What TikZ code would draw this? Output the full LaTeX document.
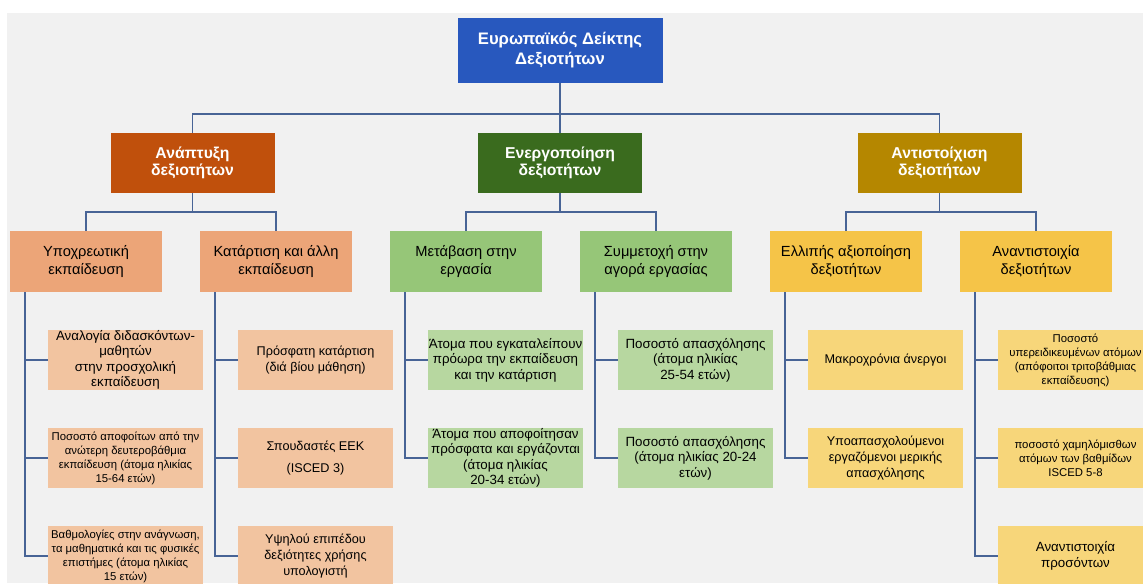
\documentclass[tikz,border=0pt]{standalone}
\usepackage{fontspec}
\setmainfont{Liberation Sans}
\usepackage{tikz}
\usetikzlibrary{calc}

\definecolor{bggray}{RGB}{241,241,241}
\definecolor{linkblue}{RGB}{72,100,150}
\definecolor{topblue}{RGB}{40,88,190}
\definecolor{devorange}{RGB}{192,80,12}
\definecolor{actgreen}{RGB}{58,107,30}
\definecolor{matchgold}{RGB}{181,135,0}
\definecolor{suborange}{RGB}{236,165,120}
\definecolor{itemorange}{RGB}{242,196,160}
\definecolor{subgreen}{RGB}{150,198,120}
\definecolor{itemgreen}{RGB}{183,215,160}
\definecolor{subyellow}{RGB}{245,196,72}
\definecolor{itemyellow}{RGB}{247,214,122}

\begin{document}
\begin{tikzpicture}[x=0.75pt,y=0.75pt,yscale=-1,xscale=1,
    conn/.style={draw=linkblue, line width=1.3pt},
    topbox/.style={fill=topblue, text=white, minimum width=153.75pt, minimum height=48.75pt, inner sep=0pt, align=center, font=\fontsize{12.5}{14.5}\selectfont\bfseries},
    headbox/.style={text=white, minimum width=123pt, minimum height=45pt, inner sep=0pt, align=center, font=\fontsize{11.8}{13}\selectfont\bfseries},
    subbox/.style={minimum width=114pt, minimum height=45.75pt, inner sep=0pt, align=center, font=\fontsize{11}{13}\selectfont},
    itembox/.style={minimum width=116.25pt, minimum height=45pt, inner sep=0pt, align=center, font=\fontsize{10}{11.6}\selectfont},
    smallitem/.style={itembox, font=\fontsize{8.5}{10.5}\selectfont},
    miditem/.style={itembox, font=\fontsize{9.5}{12}\selectfont}]

        \useasboundingbox (0,0) rectangle (1143,583);
        \clip (0,0) rectangle (1143,583);
        %Shape: Rectangle [background]
        \fill [white] (0,0) rectangle (1143,583);
        \fill [bggray] (7,13) rectangle (1143,583);

        % Text Node
        \node [topbox] (top) at (560,50) {Ευρωπαϊκός Δείκτης\\Δεξιοτήτων};

        % Text Node
        \node [headbox, fill=devorange] (dev) at (192.5,163) {Ανάπτυξη\\δεξιοτήτων};
        \node [headbox, fill=actgreen] (act) at (560,163) {Ενεργοποίηση\\δεξιοτήτων};
        \node [headbox, fill=matchgold] (match) at (939.5,163) {Αντιστοίχιση\\δεξιοτήτων};

        % Text Node
        \node [subbox, fill=suborange] (compul) at (86,261.5) {Υποχρεωτική\\εκπαίδευση};
        \node [subbox, fill=suborange] (train) at (276,261.5) {Κατάρτιση και άλλη\\εκπαίδευση};
        \node [subbox, fill=subgreen] (trans) at (466,261.5) {Μετάβαση στην\\εργασία};
        \node [subbox, fill=subgreen] (part) at (656,261.5) {Συμμετοχή στην\\αγορά εργασίας};
        \node [subbox, fill=subyellow] (under) at (846,261.5) {Ελλιπής αξιοποίηση\\δεξιοτήτων};
        \node [subbox, fill=subyellow] (mism) at (1036,261.5) {Αναντιστοιχία\\δεξιοτήτων};

        % Text Node
        \node [itembox, fill=itemorange] (compul1) at (125.5,360) {Αναλογία διδασκόντων-\\μαθητών\\στην προσχολική\\εκπαίδευση};
        \node [smallitem, fill=itemorange] (compul2) at (125.5,458) {Ποσοστό αποφοίτων από την\\ανώτερη δευτεροβάθμια\\εκπαίδευση (άτομα ηλικίας\\15-64 ετών)};
        \node [smallitem, fill=itemorange] (compul3) at (125.5,556) {Βαθμολογίες στην ανάγνωση,\\τα μαθηματικά και τις φυσικές\\επιστήμες (άτομα ηλικίας\\15 ετών)};
        % Text Node
        \node [miditem, fill=itemorange] (train1) at (315.5,360) {Πρόσφατη κατάρτιση\\(διά βίου μάθηση)};
        \node [miditem, fill=itemorange] (train2) at (315.5,458) {Σπουδαστές ΕΕΚ\\[4pt](ISCED 3)};
        \node [miditem, fill=itemorange] (train3) at (315.5,556) {Υψηλού επιπέδου\\δεξιότητες χρήσης\\υπολογιστή};
        % Text Node
        \node [itembox, fill=itemgreen] (trans1) at (505.5,360) {Άτομα που εγκαταλείπουν\\πρόωρα την εκπαίδευση\\και την κατάρτιση};
        \node [itembox, fill=itemgreen] (trans2) at (505.5,458) {Άτομα που αποφοίτησαν\\πρόσφατα και εργάζονται\\(άτομα ηλικίας\\20-34 ετών)};
        % Text Node
        \node [itembox, fill=itemgreen] (part1) at (695.5,360) {Ποσοστό απασχόλησης\\(άτομα ηλικίας\\25-54 ετών)};
        \node [itembox, fill=itemgreen] (part2) at (695.5,458) {Ποσοστό απασχόλησης\\(άτομα ηλικίας 20-24\\ετών)};
        % Text Node
        \node [miditem, fill=itemyellow] (under1) at (885.5,360) {Μακροχρόνια άνεργοι};
        \node [miditem, fill=itemyellow] (under2) at (885.5,458) {Υποαπασχολούμενοι\\εργαζόμενοι μερικής\\απασχόλησης};
        % Text Node
        \node [smallitem, fill=itemyellow] (mism1) at (1075.5,360) {Ποσοστό\\υπερειδικευμένων ατόμων\\(απόφοιτοι τριτοβάθμιας\\εκπαίδευσης)};
        \node [smallitem, fill=itemyellow] (mism2) at (1075.5,458) {ποσοστό χαμηλόμισθων\\ατόμων των βαθμίδων\\ISCED 5-8};
        \node [itembox, fill=itemyellow] (mism3) at (1075.5,556) {Αναντιστοιχία\\προσόντων};

        %Straight Lines [top level]
        \draw [conn] (top.south) -- ++(0,31) coordinate (topbus);
        \draw [conn] (dev.north) |- (topbus) -| (match.north);
        \draw [conn] (act.north) -- (topbus);

        %Straight Lines [second level]
        \draw [conn] (dev.south) -- ++(0,19) coordinate (devbus);
        \draw [conn] (compul.north) |- (devbus) -| (train.north);
        \draw [conn] (act.south) -- ++(0,19) coordinate (actbus);
        \draw [conn] (trans.north) |- (actbus) -| (part.north);
        \draw [conn] (match.south) -- ++(0,19) coordinate (matchbus);
        \draw [conn] (under.north) |- (matchbus) -| (mism.north);

        %Straight Lines [third level]
        \coordinate (compulspine) at ($(compul.south west)+(15,0)$);
        \draw [conn] (compulspine) |- (compul3.west);
        \draw [conn] (compulspine |- compul1.west) -- (compul1.west);
        \draw [conn] (compulspine |- compul2.west) -- (compul2.west);
        \coordinate (trainspine) at ($(train.south west)+(15,0)$);
        \draw [conn] (trainspine) |- (train3.west);
        \draw [conn] (trainspine |- train1.west) -- (train1.west);
        \draw [conn] (trainspine |- train2.west) -- (train2.west);
        \coordinate (transspine) at ($(trans.south west)+(15,0)$);
        \draw [conn] (transspine) |- (trans2.west);
        \draw [conn] (transspine |- trans1.west) -- (trans1.west);
        \coordinate (partspine) at ($(part.south west)+(15,0)$);
        \draw [conn] (partspine) |- (part2.west);
        \draw [conn] (partspine |- part1.west) -- (part1.west);
        \coordinate (underspine) at ($(under.south west)+(15,0)$);
        \draw [conn] (underspine) |- (under2.west);
        \draw [conn] (underspine |- under1.west) -- (under1.west);
        \coordinate (mismspine) at ($(mism.south west)+(15,0)$);
        \draw [conn] (mismspine) |- (mism3.west);
        \draw [conn] (mismspine |- mism1.west) -- (mism1.west);
        \draw [conn] (mismspine |- mism2.west) -- (mism2.west);
    \end{tikzpicture}
\end{document}
